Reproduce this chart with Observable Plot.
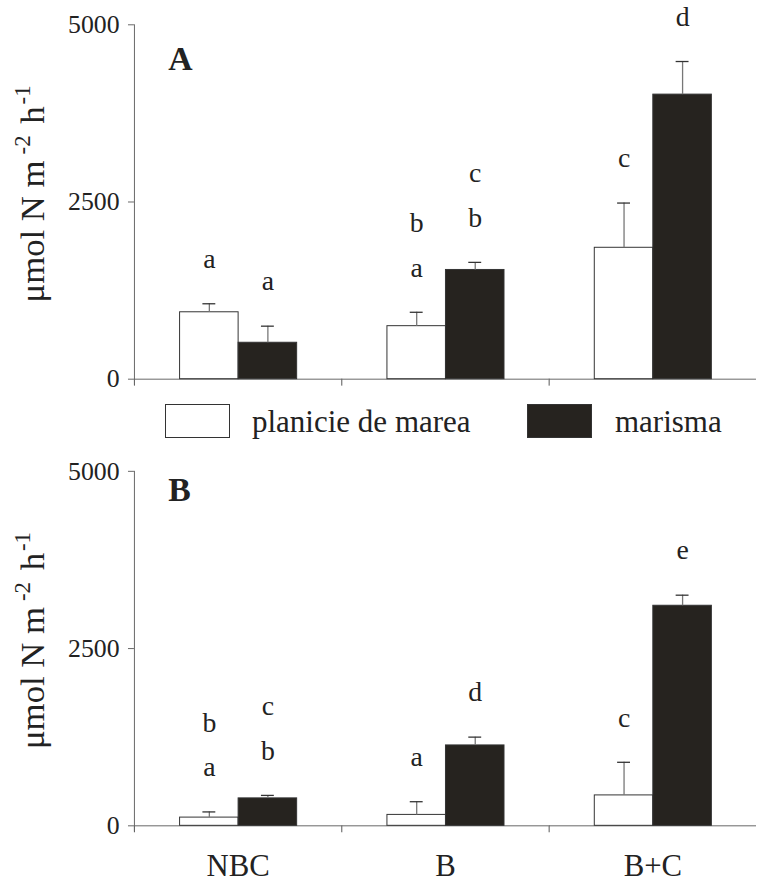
<!DOCTYPE html>
<html>
<head>
<meta charset="utf-8">
<script src="https://cdn.jsdelivr.net/npm/d3@7"></script>
<script src="https://cdn.jsdelivr.net/npm/@observablehq/plot@0.6"></script>
<style>
  html, body { margin: 0; padding: 0; background: #fff; overflow: hidden; }
  #wrap { position: relative; width: 757px; height: 885px; overflow: hidden; background: #fff;
          font-family: "Liberation Serif", "Times New Roman", serif; color: #222; }
  .panel { position: absolute; left: 0; }
  #legend { position: absolute; left: 0; top: 400px; width: 757px; height: 50px; }
  .sw { position: absolute; top: 4px; width: 63px; height: 32px; border: 1px solid #333; box-sizing: content-box; }
  .lt { position: absolute; top: 6px; font-size: 31px; line-height: 31px; white-space: nowrap; color: #222; }
</style>
</head>
<body>
<div id="wrap">
  <div id="panelA" class="panel" style="top:0px"></div>
  <div id="legend"></div>
  <div id="panelB" class="panel" style="top:450px"></div>
</div>
<script>
// ---- data ----
const categories = ["NBC", "B", "B+C"];
const series = ["planicie de marea", "marisma"];
const yTicks = [0, 2500, 5000];

// Panel A
const aPlanicieMean = [944, 748, 1854];
const aPlanicieSE   = [120, 196, 631];
const aMarismaMean  = [514, 1541, 4015];
const aMarismaSE    = [234, 107, 467];
const aPlanicieLetters = ["a", "b\na", "c"];
const aMarismaLetters  = ["a", "c\nb", "d"];

// Panel B
const bPlanicieMean = [116, 154, 429];
const bPlanicieSE   = [80, 186, 467];
const bMarismaMean  = [387, 1134, 3104];
const bMarismaSE    = [42, 117, 149];
const bPlanicieLetters = ["b\na", "a", "c"];
const bMarismaLetters  = ["c\nb", "d", "e"];

function buildRows(means, ses, letters) {
  const out = [];
  categories.forEach((c, i) => {
    series.forEach((s, j) => {
      out.push({category: c, series: s, value: means[j][i], hi: means[j][i] + ses[j][i], letters: letters[j][i]});
    });
  });
  return out;
}

const dataA = buildRows([aPlanicieMean, aMarismaMean], [aPlanicieSE, aMarismaSE], [aPlanicieLetters, aMarismaLetters]);
const dataB = buildRows([bPlanicieMean, bMarismaMean], [bPlanicieSE, bMarismaSE], [bPlanicieLetters, bMarismaLetters]);

const FONT = "Liberation Serif, Times New Roman, serif";
const W = 763;

function drawPanel(data, panelLetter, opts) {
  const {height, marginTop, marginBottom, showCategories, letterDy} = opts;
  const plotH = height - marginTop - marginBottom;
  const marks = [
    // group boundary ticks below the axis
    Plot.frame({anchor: "left", insetTop: plotH, insetBottom: -6, stroke: "#555"}),
    // y axis line
    Plot.frame({anchor: "left", facetAnchor: "left", insetBottom: -5, stroke: "#666"}),
    Plot.ruleY([0], {stroke: "#666"}),
    Plot.axisY({ticks: yTicks, tickSize: 6, tickPadding: 9, fontSize: 26, tickFormat: d => String(d), label: null, stroke: "#666"}),
    Plot.barY(data, {fx: "category", x: "series", y: "value", fill: "series", stroke: "#333", strokeWidth: 1}),
    Plot.ruleX(data, {fx: "category", x: "series", y1: "value", y2: "hi", stroke: "#777", strokeWidth: 1.3}),
    Plot.tickY(data, {fx: "category", x: "series", y: "hi", stroke: "#333", strokeWidth: 1.3, insetLeft: 23, insetRight: 23}),
    Plot.text(data, {fx: "category", x: "series", y: "hi", text: "letters", lineAnchor: "bottom", lineHeight: 1.6, dy: -36, fontSize: 28, fill: "#222"}),
    Plot.text([panelLetter], {facet: "super", frameAnchor: "top-left", textAnchor: "start", lineAnchor: "top", dx: 34, dy: letterDy, fontSize: 34, fontWeight: "bold", fill: "#222"})
  ];
  if (showCategories) {
    marks.push(Plot.axisFx({anchor: "bottom", tickSize: 0, tickPadding: 29, fontSize: 31, label: null}));
  }
  const chart = Plot.plot({
    width: W,
    height,
    marginLeft: 134,
    marginRight: 0,
    marginTop,
    marginBottom,
    style: {fontFamily: FONT, color: "#222", background: "#fff", overflow: "visible"},
    fx: {domain: categories, padding: 0, label: null, axis: null},
    x: {domain: series, paddingInner: 0, paddingOuter: 0.75, axis: null},
    y: {domain: [0, 5000], label: null, axis: null},
    color: {domain: series, range: ["#ffffff", "#26231f"]},
    marks
  });
  // y-axis title with superscripts
  const svg = d3.select(chart);
  const t = svg.append("text")
    .attr("transform", `translate(44,${marginTop + 171}) rotate(-90)`)
    .attr("text-anchor", "middle")
    .attr("font-family", FONT)
    .attr("font-size", 35)
    .attr("fill", "#222");
  t.append("tspan").text("\u03bcmol N m");
  t.append("tspan").attr("font-size", 23).attr("dy", -14).attr("dx", 6).text("-2");
  t.append("tspan").attr("dy", 14).attr("dx", 3).text(" h");
  t.append("tspan").attr("font-size", 23).attr("dy", -14).attr("dx", 2).text("-1");
  return chart;
}

document.getElementById("panelA").appendChild(
  drawPanel(dataA, "A", {height: 400, marginTop: 24.5, marginBottom: 18.3, showCategories: false, letterDy: 21})
);
document.getElementById("panelB").appendChild(
  drawPanel(dataB, "B", {height: 435, marginTop: 21, marginBottom: 56.7, showCategories: true, letterDy: 6})
);

// legend
const legend = d3.select("#legend");
const legendColors = ["#ffffff", "#26231f"];
const swatchLeft = [165, 527];
const textLeft = [252, 615];
series.forEach((s, i) => {
  legend.append("div").attr("class", "sw")
    .style("left", swatchLeft[i] + "px")
    .style("background", legendColors[i]);
  legend.append("div").attr("class", "lt")
    .style("left", textLeft[i] + "px")
    .text(s);
});
</script>
</body>
</html>
